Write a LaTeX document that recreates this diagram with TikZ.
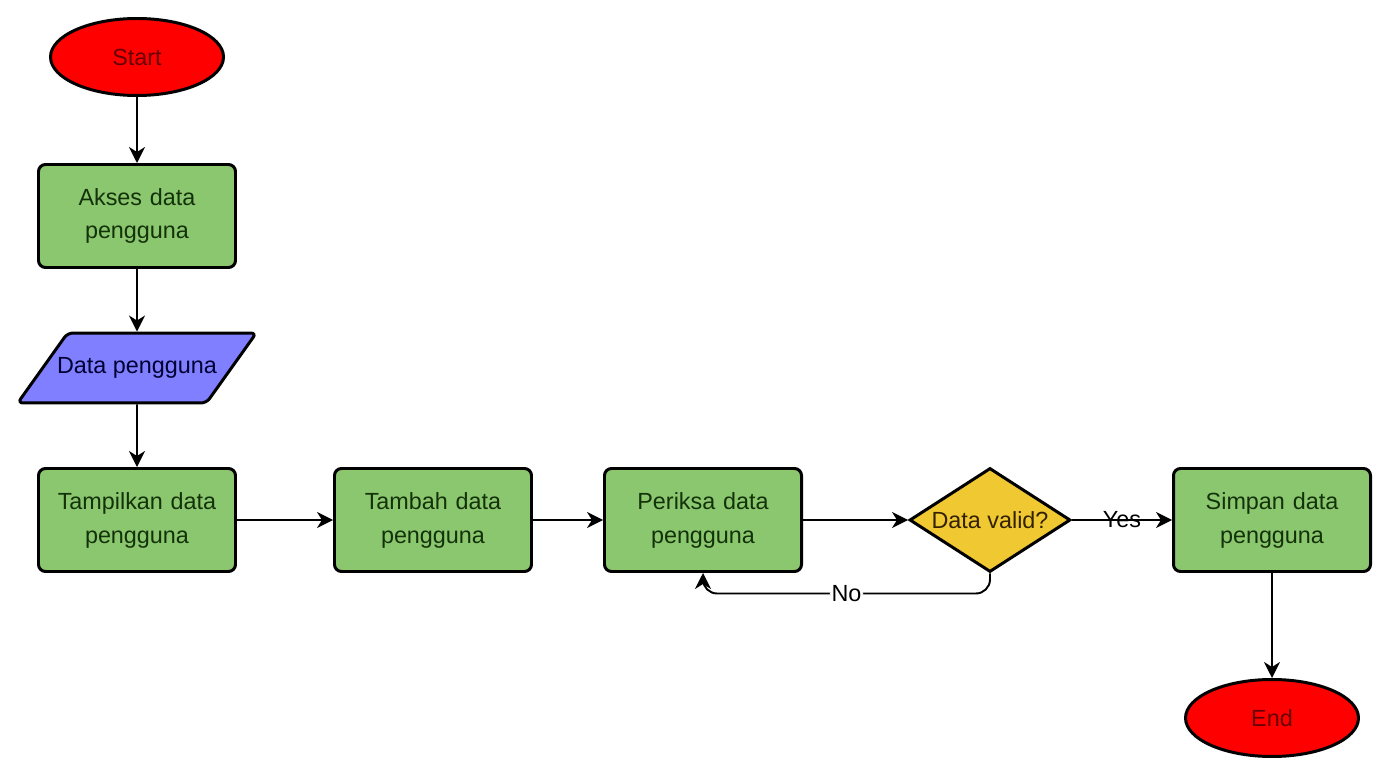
\documentclass[tikz,border=0pt]{standalone}
\usepackage{fontspec}
\setmainfont{Liberation Sans}
\usetikzlibrary{shapes,arrows.meta,positioning}
\usepackage{xcolor}
\definecolor{termred}{RGB}{255,0,0}
\definecolor{termtext}{RGB}{102,0,0}
\definecolor{procgreen}{RGB}{139,199,110}
\definecolor{proctext}{RGB}{20,50,10}
\definecolor{iobblue}{RGB}{127,127,255}
\definecolor{iotext}{RGB}{0,0,51}
\definecolor{decyellow}{RGB}{240,200,50}
\definecolor{dectext}{RGB}{51,34,0}

\begin{document}
\begin{tikzpicture}[node distance=3.04cm, >={Stealth[length=3.2mm,width=3.2mm,inset=1mm]},
    every node/.style={font=\fontsize{13.3pt}{19.3pt}\selectfont},
    terminal/.style={ellipse, draw, line width=1.7pt, fill=termred, text=termtext, minimum width=3.46cm, minimum height=1.54cm},
    process/.style={rectangle, draw, line width=1.7pt, fill=procgreen, text=proctext, text width=3.6cm, text centered, rounded corners=4pt, minimum width=3.94cm, minimum height=2.06cm},
    io/.style={trapezium, trapezium left angle=54.5, trapezium right angle=125.5, trapezium stretches body=true, draw, line width=1.7pt, fill=iobblue, text=iotext, rounded corners=3pt, inner ysep=0.49cm, inner xsep=-0.21cm},
    decision/.style={diamond, aspect=1.53, draw, line width=1.7pt, fill=decyellow, text=dectext, inner sep=0pt, minimum width=3.22cm, minimum height=2.08cm},
    line/.style={->, line width=1.1pt}]

    \useasboundingbox (0,0) rectangle (27.82,-15.42);

    \node[terminal] (start) at (2.74,-1.14) {Start};
    \node[process, below of=start, yshift=-0.14cm] (akses) {Akses data\\ pengguna};
    \node[io, below of=akses] (datain) {Data pengguna};
    \node[process, below of=datain] (tampil) {Tampilkan data\\ pengguna};
    \node[process, right of=tampil, xshift=2.88cm] (tambah) {Tambah data\\ pengguna};
    \node[process, right of=tambah, xshift=2.36cm] (periksa) {Periksa data\\ pengguna};
    \node[decision, right of=periksa, xshift=2.7cm] (valid) {Data valid?};
    \node[process, right of=valid, xshift=2.6cm] (simpan) {Simpan data\\ pengguna};
    \node[terminal, below of=simpan, yshift=-0.92cm] (finish) {End};

    \draw[line] (start) -- (akses);
    \draw[line] (akses) -- (datain);
    \draw[line] (datain) -- (tampil);
    \draw[line] (tampil) -- (tambah);
    \draw[line] (tambah) -- (periksa);
    \draw[line] (periksa) -- (valid);
    \draw[line] (valid) -- node[text=black] {Yes} (simpan);
    \draw[line] (simpan) -- (finish);
    \draw[line, rounded corners=8pt] (valid.south) -- ++(0,-0.4) -| node[pos=0.25, fill=white, inner sep=1pt, text=black] {No} (periksa.south);
\end{tikzpicture}
\end{document}
